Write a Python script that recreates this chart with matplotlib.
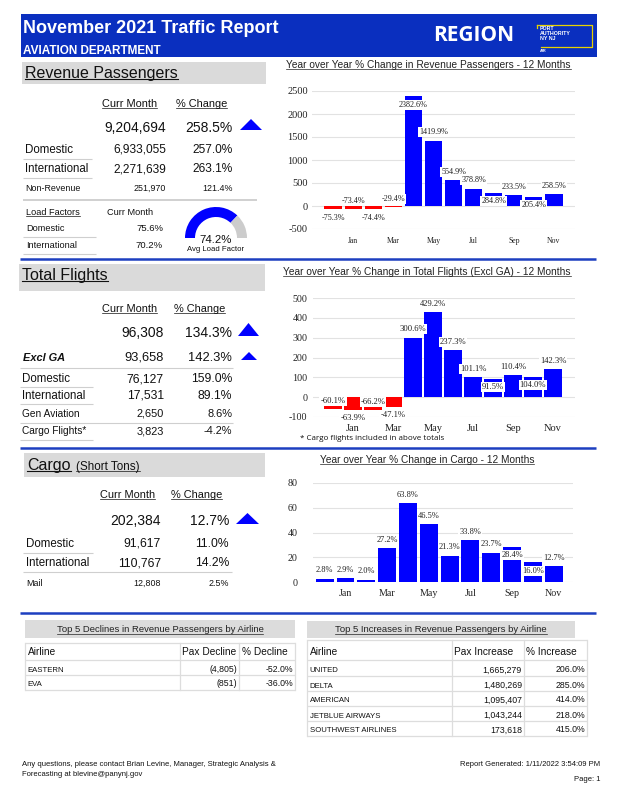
import numpy as np
import matplotlib
matplotlib.use("Agg")
import matplotlib.pyplot as plt
from matplotlib.patches import Rectangle, Polygon, Wedge

plt.rcParams["axes.unicode_minus"] = False

# ---------------------------------------------------------------------------
# Data
# ---------------------------------------------------------------------------
MONTHS = ["Dec", "Jan", "Feb", "Mar", "Apr", "May",
          "Jun", "Jul", "Aug", "Sep", "Oct", "Nov"]

PAX_YOY = [-75.3, -73.4, -74.4, -29.4, 2382.6, 1419.9,
           554.9, 378.8, 284.8, 233.5, 205.4, 258.5]
FLT_YOY = [-60.1, -63.9, -66.2, -47.1, 300.6, 429.2,
           237.3, 101.1, 91.5, 110.4, 104.0, 142.3]
CARGO_YOY = [2.8, 2.9, 2.0, 27.2, 63.8, 46.5,
             21.3, 33.8, 23.7, 28.4, 16.0, 12.7]

PAX_TOTAL = (9204694, 258.5)
PAX_ROWS = [("Domestic", 6933055, 257.0), ("International", 2271639, 263.1)]
PAX_NONREV = ("Non-Revenue", 251970, 121.4)
LOAD_FACTORS = [("Domestic", 75.6), ("International", 70.2)]
AVG_LOAD = 74.2

FLT_TOTAL = (96308, 134.3)
FLT_EXCL_GA = (93658, 142.3)
FLT_ROWS = [("Domestic", 76127, 159.0), ("International", 17531, 89.1)]
FLT_SMALL = [("Gen Aviation", 2650, 8.6), ("Cargo Flights*", 3823, -4.2)]

CARGO_TOTAL = (202384, 12.7)
CARGO_ROWS = [("Domestic", 91617, 11.0), ("International", 110767, 14.2)]
CARGO_MAIL = ("Mail", 12808, 2.5)

DECL_AIRLINES = ["EASTERN", "EVA"]
DECL_PAX = [-4805, -851]
DECL_PCT = [-52.0, -36.0]

INCR_AIRLINES = ["UNITED", "DELTA", "AMERICAN", "JETBLUE AIRWAYS", "SOUTHWEST AIRLINES"]
INCR_PAX = [1665279, 1480269, 1095407, 1043244, 173618]
INCR_PCT = [206.0, 285.0, 414.0, 218.0, 415.0]

# label side for bar value labels (+1 above, -1 below) -- style only
PAX_SIDE = [-1, 1, -1, 1, -1, 1, 1, 1, -1, 1, -1, 1]
FLT_SIDE = [1, -1, 1, -1, 1, 1, 1, 1, -1, 1, -1, 1]
CARGO_SIDE = [1, 1, 1, 1, 1, 1, 1, 1, 1, -1, -1, 1]

# ---------------------------------------------------------------------------
# Style
# ---------------------------------------------------------------------------
W, H = 618, 800
HDR_BLUE = "#0a2fbf"
LINE_BLUE = "#1d3fc0"
BAR_BLUE = "#0000ff"
BAR_RED = "#ff0000"
BOX_GRAY = "#dadada"
ROW_LINE = "#cfcfcf"
SANS = "Liberation Sans"
SERIF = "Liberation Serif"
INK = "#111111"

fig = plt.figure(figsize=(W / 100, H / 100), dpi=100)
bg = fig.add_axes([0, 0, 1, 1])
bg.set_xlim(0, W)
bg.set_ylim(H, 0)
bg.axis("off")

UNDERLINED = []


def txt(x, y, s, size, ha="left", va="baseline", weight="normal", style="normal",
        family=SANS, color=INK, underline=False):
    t = bg.text(x, y, s, fontsize=size, ha=ha, va=va, fontweight=weight,
                fontstyle=style, family=family, color=color)
    if underline:
        UNDERLINED.append(t)
    return t


def hline(x0, x1, y, color=ROW_LINE, lw=0.8):
    bg.plot([x0, x1], [y, y], color=color, lw=lw, solid_capstyle="butt")


def box(x0, y0, x1, y1, color=BOX_GRAY):
    bg.add_patch(Rectangle((x0, y0), x1 - x0, y1 - y0, color=color, lw=0))


def up_triangle(x0, x1, y0, y1):
    bg.add_patch(Polygon([(x0, y1), (x1, y1), ((x0 + x1) / 2, y0)],
                         closed=True, color=BAR_BLUE, lw=0))


def pct(v):
    return f"{v:.1f}%"


# ---------------------------------------------------------------------------
# Header band
# ---------------------------------------------------------------------------
box(21, 14, 597, 57, HDR_BLUE)
txt(23, 33, "November 2021 Traffic Report", 13, weight="bold", color="white")
txt(23, 54, "AVIATION DEPARTMENT", 8.5, weight="bold", color="white")
txt(433, 41, "REGION", 15, weight="bold", family="Open Sans", color="white")
YEL = "#e8d200"
bg.plot([537, 592, 592, 541], [25, 25, 47, 47], color=YEL, lw=0.9)
bg.plot([537, 537], [25, 28], color=YEL, lw=0.9)
txt(540, 30.5, "PORT", 3.8, weight="bold", color="white")
txt(540, 35, "AUTHORITY", 3.8, weight="bold", color="white")
txt(540, 39.5, "NY NJ", 3.8, weight="bold", color="white")
txt(540, 51.5, "AIR", 2.8, weight="bold", color="white")

# ---------------------------------------------------------------------------
# Revenue passengers block
# ---------------------------------------------------------------------------
box(22, 62, 266, 84)
txt(25, 78, "Revenue Passengers", 11.5, underline=True)
txt(102, 107, "Curr Month", 7.9, underline=True)
txt(176, 107, "% Change", 7.9, underline=True)
txt(166, 132, f"{PAX_TOTAL[0]:,}", 10, ha="right")
txt(233, 132, pct(PAX_TOTAL[1]), 10, ha="right")
up_triangle(240, 262, 119, 130)
for (name, val, chg), yb in zip(PAX_ROWS, [153, 172]):
    txt(25, yb, name, 8.3)
    txt(166, yb, f"{val:,}", 8.6, ha="right")
    txt(233, yb, pct(chg), 8.6, ha="right")
    hline(23, 92, yb + 6)
txt(25, 191, PAX_NONREV[0], 6.4)
txt(166, 191, f"{PAX_NONREV[1]:,}", 6.4, ha="right")
txt(233, 191, pct(PAX_NONREV[2]), 6.4, ha="right")
hline(23, 257, 200, color="#c4c4c4", lw=1.1)
txt(26, 215, "Load Factors", 6.6, underline=True)
txt(107, 215, "Curr Month", 6.6)
for (name, val), yb in zip(LOAD_FACTORS, [231, 248]):
    txt(26, yb, name, 6.6)
    txt(163, yb, pct(val), 6.8, ha="right")
    hline(23, 96, yb + 6)

# gauge (y axis of bg is inverted, so the upper half runs 180..360 deg)
gx, gy, gr = 216, 238, 31
split = 180 + 180 * AVG_LOAD / 100
bg.add_patch(Wedge((gx, gy), gr, 180, split, width=10, color=BAR_BLUE, lw=0))
bg.add_patch(Wedge((gx, gy), gr, split, 360, width=10, color="#cccccc", lw=0))
txt(gx, 243, pct(AVG_LOAD), 8.2, ha="center")
txt(gx, 251, "Avg Load Factor", 5.6, ha="center")

# ---------------------------------------------------------------------------
# Total flights block
# ---------------------------------------------------------------------------
hline(20, 596, 259, color=LINE_BLUE, lw=1.8)
box(19, 264, 265, 291)
txt(22, 280, "Total Flights", 11.5, underline=True)
txt(102, 312, "Curr Month", 7.9, underline=True)
txt(174, 312, "% Change", 7.9, underline=True)
txt(164, 337, f"{FLT_TOTAL[0]:,}", 10, ha="right")
txt(232, 337, pct(FLT_TOTAL[1]), 10, ha="right")
up_triangle(238, 259, 323, 336)
txt(23, 361, "Excl GA", 7.9, weight="bold", style="italic")
txt(164, 361, f"{FLT_EXCL_GA[0]:,}", 9.3, ha="right")
txt(232, 361, pct(FLT_EXCL_GA[1]), 9.3, ha="right")
up_triangle(241, 257, 352, 360)
hline(20, 233, 368)
for (name, val, chg), yb in zip(FLT_ROWS, [382, 399]):
    txt(22, yb, name, 8.3)
    txt(164, yb, f"{val:,}", 8.7, ha="right")
    txt(232, yb, pct(chg), 8.7, ha="right")
    hline(20, 93, yb + 5)
for (name, val, chg), yb in zip(FLT_SMALL, [417, 434]):
    txt(22, yb, name, 7.3)
    txt(164, yb, f"{val:,}", 7.9, ha="right")
    txt(232, yb, pct(chg), 7.9, ha="right")
hline(20, 233, 423)
hline(20, 93, 440)

# ---------------------------------------------------------------------------
# Cargo block
# ---------------------------------------------------------------------------
hline(20, 596, 448, color=LINE_BLUE, lw=1.8)
box(24, 453, 265, 477)
txt(27, 470, "Cargo", 11.5, underline=True)
txt(76, 470, "(Short Tons)", 8.4, underline=True)
txt(100, 498, "Curr Month", 7.9, underline=True)
txt(171, 498, "% Change", 7.9, underline=True)
txt(161, 525, f"{CARGO_TOTAL[0]:,}", 10, ha="right")
txt(229, 525, pct(CARGO_TOTAL[1]), 10, ha="right")
up_triangle(236, 259, 513, 524)
for (name, val, chg), yb in zip(CARGO_ROWS, [547, 566]):
    txt(26, yb, name, 8.3)
    txt(161, yb, f"{val:,}", 8.7, ha="right")
    txt(229, yb, pct(chg), 8.7, ha="right")
hline(23, 93, 553)
hline(23, 232, 572)
txt(26, 586, CARGO_MAIL[0], 6.4)
txt(161, 586, f"{CARGO_MAIL[1]:,}", 6.4, ha="right")
txt(229, 586, pct(CARGO_MAIL[2]), 6.4, ha="right")

hline(20, 596, 613, color=LINE_BLUE, lw=1.8)


# ---------------------------------------------------------------------------
# Bar charts
# ---------------------------------------------------------------------------
def bar_chart(l, t, r, b, values, sides, ylim, yticks, xlim, colors,
              ytick_fs, xtick_fs, lab_fs, ypad, xpad):
    ax = fig.add_axes([l / W, 1 - b / H, (r - l) / W, (b - t) / H])
    x = np.arange(len(values))
    ax.bar(x, values, width=0.86, color=colors, zorder=2)
    ax.set_xlim(*xlim)
    ax.set_ylim(*ylim)
    ax.set_yticks(yticks)
    ax.set_xticks(x[1::2])
    ax.set_xticklabels(MONTHS[1::2])
    ax.grid(axis="y", color="#e2e2e2", lw=0.8, zorder=0)
    ax.set_axisbelow(True)
    for s in ax.spines.values():
        s.set_visible(False)
    ax.tick_params(axis="y", length=0, pad=ypad, labelsize=ytick_fs,
                   labelcolor="#222222", labelfontfamily=SERIF)
    ax.tick_params(axis="x", length=0, pad=xpad, labelsize=xtick_fs,
                   labelcolor="#222222", labelfontfamily=SERIF)
    ax.patch.set_alpha(0)
    for xi, v, sd in zip(x, values, sides):
        ax.annotate(pct(v), (xi, v), xytext=(0, 6 * sd), textcoords="offset points",
                    ha="center", va="center", fontsize=lab_fs, family=SERIF,
                    color="#222222", annotation_clip=False, zorder=3,
                    bbox=dict(boxstyle="square,pad=0.12", fc="white", ec="none"))
    return ax


pax_colors = [BAR_RED if v < 0 else BAR_BLUE for v in PAX_YOY]
flt_colors = [BAR_RED if v < 0 else BAR_BLUE for v in FLT_YOY]

txt(286, 68, "Year over Year % Change in Revenue Passengers - 12 Months", 7.3,
    color="#222222", underline=True)
bar_chart(312, 91, 575, 229, PAX_YOY, PAX_SIDE, (-500, 2500),
          [-500, 0, 500, 1000, 1500, 2000, 2500], (-1.05, 12.05), pax_colors,
          7.5, 5.6, 5.9, 3, 6)

txt(283, 275, "Year over Year % Change in Total Flights (Excl GA) - 12 Months", 7.3,
    color="#222222", underline=True)
bar_chart(313, 298, 575, 417, FLT_YOY, FLT_SIDE, (-100, 500),
          [-100, 0, 100, 200, 300, 400, 500], (-1.0, 12.1), flt_colors,
          7.2, 7.5, 6.2, 4, 5)
txt(300, 440, "* Cargo flights included in above totals", 5.8, family="Open Sans")

txt(427, 463, "Year over Year % Change in Cargo - 12 Months", 7.3, ha="center",
    color="#222222", underline=True)
bar_chart(313, 483, 573, 582, CARGO_YOY, CARGO_SIDE, (0, 80),
          [0, 20, 40, 60, 80], (-0.56, 11.93), BAR_BLUE,
          7.2, 7.2, 6.0, 11, 5)


# ---------------------------------------------------------------------------
# Airline tables
# ---------------------------------------------------------------------------
def airline_table(x_cols, y_rows, title, title_box, heads, names, pax, pcts, pax_fmt):
    bx0, by0, bx1, by1 = title_box
    box(bx0, by0, bx1, by1, "#dcdcdc")
    txt((bx0 + bx1) / 2, by1 - 5.5, title, 6.8, ha="center", color="#222222",
        underline=True)
    x0, x1 = x_cols[0], x_cols[-1]
    for yy in y_rows:
        hline(x0, x1, yy, color="#dddddd", lw=0.9)
    for xx in x_cols:
        bg.plot([xx, xx], [y_rows[0], y_rows[-1]], color="#dddddd", lw=0.9)
    hb = y_rows[1] - 5
    for xx, h in zip(x_cols[:3], heads):
        txt(xx + 2.5, hb, h, 7.3)
    for i, (n, p, c) in enumerate(zip(names, pax, pcts)):
        yb = y_rows[i + 2] - 3.5
        txt(x_cols[0] + 2.5, yb, n, 5.6)
        txt(x_cols[2] - 2, yb, pax_fmt(p), 6.3, ha="right")
        txt(x_cols[3] - 2, yb, pct(c), 6.3, ha="right")


airline_table([25, 180, 239, 295], [643, 660, 675, 690],
              "Top 5 Declines in Revenue Passengers by Airline", (25, 620, 295, 638),
              ["Airline", "Pax Decline", "% Decline"],
              DECL_AIRLINES, DECL_PAX, DECL_PCT, lambda v: f"({abs(v):,})")

airline_table([307, 452, 524, 587], [640, 660, 676, 691, 706, 721, 736],
              "Top 5 Increases in Revenue Passengers by Airline", (307, 621, 575, 638),
              ["Airline", "Pax Increase", "% Increase"],
              INCR_AIRLINES, INCR_PAX, INCR_PCT, lambda v: f"{v:,}")

# ---------------------------------------------------------------------------
# Footer
# ---------------------------------------------------------------------------
txt(22, 766, "Any questions, please contact Brian Levine, Manager, Strategic Analysis &", 5.5)
txt(22, 776, "Forecasting at blevine@panynj.gov", 5.5)
txt(600, 766, "Report Generated: 1/11/2022 3:54:09 PM", 5.5, ha="right")
txt(600, 781, "Page: 1", 5.5, ha="right")

# underlines, measured from the rendered text
fig.canvas.draw()
renderer = fig.canvas.get_renderer()
for t in UNDERLINED:
    bb = t.get_window_extent(renderer)
    yb = t.get_position()[1]
    lw = 0.5 if t.get_fontsize() < 9 else 0.8
    bg.plot([bb.x0, bb.x1], [yb + 1.3, yb + 1.3], color=t.get_color(), lw=lw)

fig.savefig("out.png", dpi=100)
